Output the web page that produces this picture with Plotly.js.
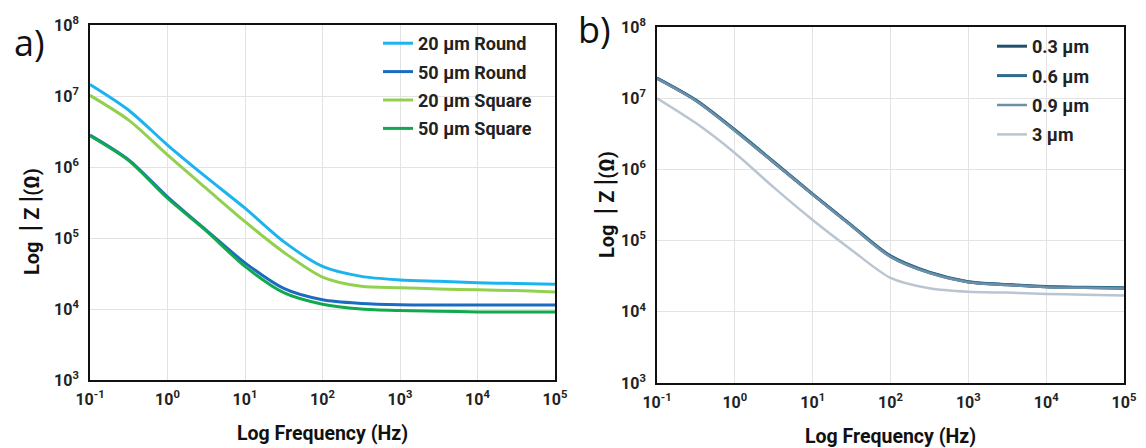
<!DOCTYPE html>
<html>
<head>
<meta charset="utf-8">
<script src="https://cdn.plot.ly/plotly-3.0.1.min.js"></script>
<style>html,body{margin:0;padding:0;background:#fff;}#chart{width:1146px;height:448px;}</style>
</head>
<body>
<div id="chart"></div>
<script>
// Frequencies (Hz)
const freq = [0.1, 0.316, 1, 3.16, 10, 31.6, 100, 316, 1000, 3160, 10000, 31600, 100000];

// Panel a) |Z| (Ohm)
const round20  = [1.45e7, 6.3e6, 2.04e6, 7.2e5, 2.63e5, 8.9e4, 3.98e4, 2.88e4, 2.57e4, 2.45e4, 2.34e4, 2.29e4, 2.24e4];
const round50  = [2.82e6, 1.26e6, 3.8e5, 1.29e5, 4.47e4, 1.95e4, 1.35e4, 1.20e4, 1.15e4, 1.14e4, 1.14e4, 1.14e4, 1.14e4];
const square20 = [1.02e7, 4.57e6, 1.48e6, 5.0e5, 1.70e5, 6.3e4, 2.82e4, 2.09e4, 2.0e4, 1.91e4, 1.86e4, 1.82e4, 1.74e4];
const square50 = [2.75e6, 1.23e6, 3.63e5, 1.26e5, 3.98e4, 1.70e4, 1.17e4, 1.0e4, 9.5e3, 9.3e3, 9.1e3, 9.1e3, 9.1e3];

// Panel b) |Z| (Ohm)
const t03 = [1.90e7, 9.3e6, 3.55e6, 1.26e6, 4.47e5, 1.62e5, 6.0e4, 3.55e4, 2.63e4, 2.40e4, 2.24e4, 2.19e4, 2.14e4];
const t06 = [1.92e7, 9.4e6, 3.6e6, 1.28e6, 4.5e5, 1.64e5, 6.1e4, 3.6e4, 2.65e4, 2.42e4, 2.26e4, 2.21e4, 2.17e4];
const t09 = [1.88e7, 9.2e6, 3.5e6, 1.25e6, 4.42e5, 1.60e5, 5.9e4, 3.5e4, 2.61e4, 2.38e4, 2.22e4, 2.17e4, 2.12e4];
const t3  = [1.0e7, 4.47e6, 1.7e6, 5.6e5, 1.95e5, 7.4e4, 3.0e4, 2.14e4, 1.91e4, 1.86e4, 1.78e4, 1.74e4, 1.70e4];

const xTickVals = [0.1, 1, 10, 100, 1000, 10000, 100000];
const xTickText = ['10<sup>-1</sup>', '10<sup>0</sup>', '10<sup>1</sup>', '10<sup>2</sup>', '10<sup>3</sup>', '10<sup>4</sup>', '10<sup>5</sup>'];
const yTickVals = [1e3, 1e4, 1e5, 1e6, 1e7, 1e8];
const yTickText = ['10<sup>3</sup>', '10<sup>4</sup>', '10<sup>5</sup>', '10<sup>6</sup>', '10<sup>7</sup>', '10<sup>8</sup>'];

const W = 1146, H = 448;
const FONT = 'Roboto, "Liberation Sans", sans-serif';
const BAR = "<span style='font-size:27px'>|</span>";
const yTitle = 'Log\u00a0\u00a0' + BAR + '\u00a0Z\u00a0' + BAR + '(Ω)';

function tr(y, name, color, xa, ya, leg, width) {
  return {x: freq, y: y, name: name, type: 'scatter', mode: 'lines',
    line: {color: color, width: width || 3, shape: 'spline', smoothing: 0.8},
    xaxis: xa, yaxis: ya, legend: leg, legendgroup: name};
}

const data = [
  tr(round20, '20 µm Round', '#1cb4ef', 'x', 'y', 'legend'),
  tr(round50, '50 µm Round', '#1a6cc2', 'x', 'y', 'legend'),
  tr(square20, '20 µm Square', '#92d050', 'x', 'y', 'legend'),
  tr(square50, '50 µm Square', '#12a84e', 'x', 'y', 'legend'),
  tr(t03, '0.3 µm', '#1f4f6e', 'x2', 'y2', 'legend2', 3),
  tr(t06, '0.6 µm', '#2d6a8c', 'x2', 'y2', 'legend2', 3),
  tr(t09, '0.9 µm', '#6e8fa8', 'x2', 'y2', 'legend2', 2.5),
  tr(t3, '3 µm', '#b9c5d1', 'x2', 'y2', 'legend2', 2.5)
];

function xax(l, r, anchor) {
  return {type: 'log', range: [-1, 5], domain: [l / W, r / W], anchor: anchor,
    tickvals: xTickVals, ticktext: xTickText, ticks: '', ticklabelstandoff: 4,
    tickfont: {family: FONT, size: 16, color: '#222', weight: 'bold'},
    showline: true, mirror: true, linecolor: '#111', linewidth: 2,
    showgrid: true, gridcolor: '#e3e3e3', gridwidth: 1, zeroline: false,
    title: {text: 'Log Frequency (Hz)', font: {family: FONT, size: 19.5, color: '#111', weight: 'bold'}, standoff: 18}};
}
function yax(t, b, anchor) {
  return {type: 'log', range: [3, 8], domain: [1 - b / H, 1 - t / H], anchor: anchor,
    tickvals: yTickVals, ticktext: yTickText, ticks: '', ticklabelstandoff: 6,
    tickfont: {family: FONT, size: 16, color: '#222', weight: 'bold'},
    showline: true, mirror: true, linecolor: '#111', linewidth: 2,
    showgrid: true, gridcolor: '#e3e3e3', gridwidth: 1, zeroline: false};
}

const legFont = {family: FONT, size: 18, color: '#222', weight: 'bold'};
const titleFont = {family: FONT, size: 20, color: '#111', weight: 'bold'};
const layout = {
  width: W, height: H,
  margin: {l: 0, r: 0, t: 0, b: 0},
  paper_bgcolor: '#fff', plot_bgcolor: '#fff',
  showlegend: true,
  xaxis: xax(90, 555, 'y'),
  yaxis: yax(25, 380, 'x'),
  xaxis2: xax(657, 1124, 'y2'),
  yaxis2: yax(27, 383, 'x2'),
  legend: {x: 378 / W, y: 1 - 25 / H, xanchor: 'left', yanchor: 'top', bgcolor: 'rgba(0,0,0,0)',
    font: legFont, traceorder: 'grouped', tracegroupgap: 2, itemwidth: 30},
  legend2: {x: 992 / W, y: 1 - 28 / H, xanchor: 'left', yanchor: 'top', bgcolor: 'rgba(0,0,0,0)',
    font: legFont, traceorder: 'grouped', tracegroupgap: 3, itemwidth: 30},
  annotations: [
    {text: 'a)', xref: 'paper', yref: 'paper', x: 12 / W, y: 1 - 42 / H, xanchor: 'left', yanchor: 'middle',
      showarrow: false, font: {family: '"Open Sans", sans-serif', size: 36, color: '#111'}},
    {text: 'b)', xref: 'paper', yref: 'paper', x: 576 / W, y: 1 - 29 / H, xanchor: 'left', yanchor: 'middle',
      showarrow: false, font: {family: '"Open Sans", sans-serif', size: 36, color: '#111'}},
    {text: yTitle, xref: 'paper', yref: 'paper', x: 30 / W, y: 1 - 222 / H, xanchor: 'center', yanchor: 'middle',
      textangle: -90, showarrow: false, font: titleFont},
    {text: yTitle, xref: 'paper', yref: 'paper', x: 605 / W, y: 1 - 205 / H, xanchor: 'center', yanchor: 'middle',
      textangle: -90, showarrow: false, font: titleFont}
  ]
};

Plotly.newPlot('chart', data, layout, {displayModeBar: false, staticPlot: true});
</script>
</body>
</html>
